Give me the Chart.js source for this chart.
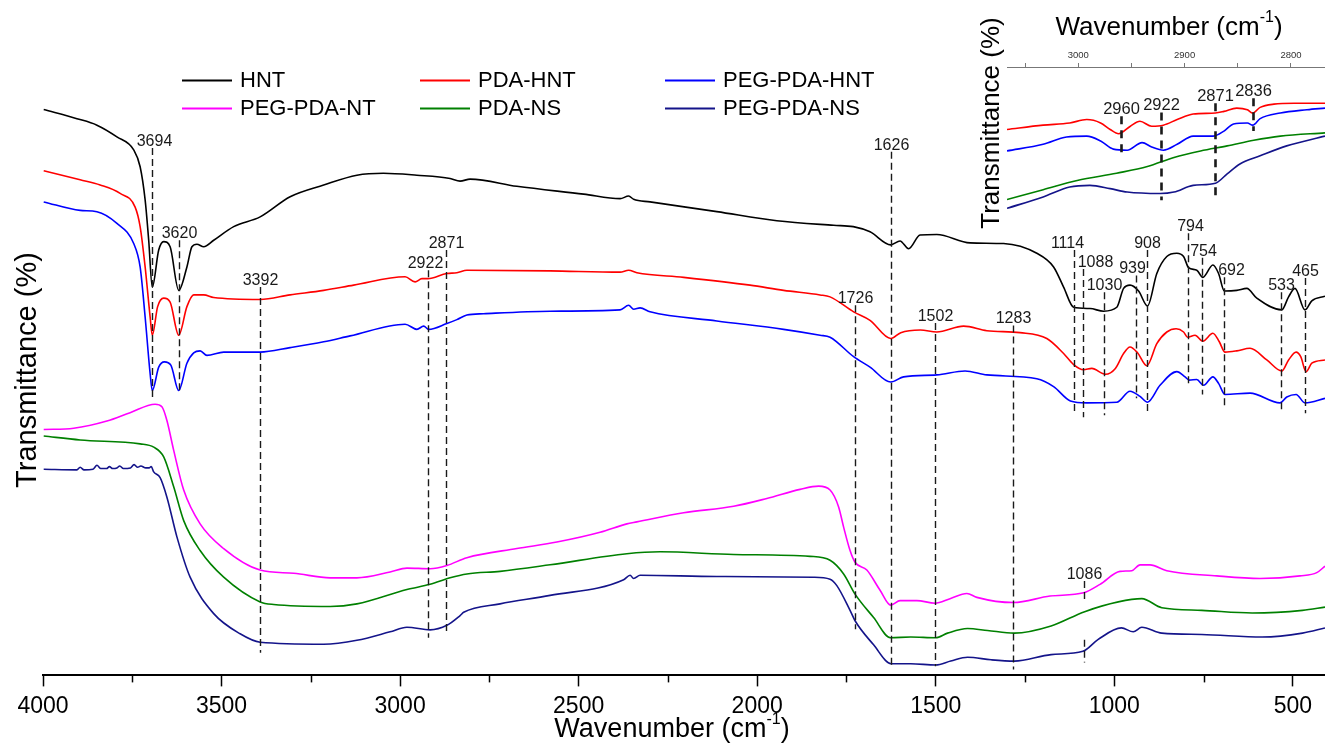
<!DOCTYPE html>
<html>
<head>
<meta charset="utf-8">
<script src="https://cdn.jsdelivr.net/npm/chart.js@4.4.1/dist/chart.umd.min.js"></script>
<style>
  body { margin: 0; background: #fff; }
  #wrap { position: relative; width: 1325px; height: 744px; }
  #main { position: absolute; left: 0; top: 0; }
  #inset { position: absolute; left: 965px; top: 0; }
</style>
</head>
<body>
<div id="wrap">
  <canvas id="main" width="1325" height="744"></canvas>
  <canvas id="inset" width="360" height="235"></canvas>
</div>
<script>
// FTIR spectra, [wavenumber (cm-1), transmittance (a.u., offset)]
var seriesNames = ['HNT', 'PDA-HNT', 'PEG-PDA-HNT', 'PEG-PDA-NT', 'PDA-NS', 'PEG-PDA-NS'];
var seriesColors = ['#000000', '#ff0000', '#0000ff', '#ff00ff', '#008000', '#14148a'];

var HNT = [
  [3998,87.0],[3905,85.6],[3849,84.6],[3793,82.8],[3746,80.8],[3728,78.2],[3714,73.1],[3704,66.9],[3694,59.7],
  [3676,65.4],[3662,66.7],[3644,65.9],[3620,59.2],[3597,62.8],[3583,65.9],[3569,66.3],[3550,65.9],[3522,66.9],
  [3466,69.0],[3392,70.5],[3308,73.6],[3214,75.4],[3121,76.9],[3047,77.2],[2953,76.9],[2860,76.4],[2832,76.0],
  [2804,76.3],[2673,75.2],[2486,74.0],[2384,73.3],[2360,73.7],[2346,73.2],[2300,72.8],[2113,71.3],[1945,69.9],
  [1786,69.2],[1731,69.0],[1684,68.2],[1626,66.2],[1600,66.8],[1576,65.6],[1544,67.7],[1497,67.8],[1404,66.5],
  [1310,66.4],[1217,64.9],[1170,62.8],[1142,59.7],[1114,56.6],[1068,56.4],[1030,56.0],[993,56.6],[974,59.5],
  [956,60.0],[932,59.1],[907,56.8],[881,61.8],[853,64.4],[825,64.9],[806,64.4],[792,62.7],[769,62.3],[752,61.2],
  [724,63.1],[708,61.8],[692,59.1],[657,59.2],[629,59.5],[601,58.0],[531,56.2],[512,58.2],[494,59.5],[466,56.2],
  [447,57.6],[410,58.3]
];
var PDA_HNT = [
  [3998,77.6],[3896,76.2],[3840,75.4],[3784,74.1],[3742,72.0],[3728,69.0],[3714,62.8],[3700,55.1],[3694,52.3],
  [3679,56.7],[3662,58.0],[3644,57.4],[3620,52.3],[3597,56.7],[3578,58.5],[3550,58.5],[3522,58.1],[3392,57.8],
  [3308,58.5],[3214,59.2],[3130,60.0],[2986,61.3],[2958,60.5],[2939,61.0],[2922,61.0],[2869,61.8],[2841,61.9],
  [2813,62.3],[2580,62.2],[2384,62.0],[2360,62.3],[2337,61.9],[2206,61.2],[2020,60.0],[1926,59.2],[1824,58.5],
  [1796,58.2],[1730,55.9],[1684,54.6],[1626,51.8],[1598,52.7],[1543,53.1],[1497,52.8],[1422,53.7],[1357,53.0],
  [1264,52.7],[1189,51.8],[1142,49.5],[1114,47.8],[1086,47.0],[1063,47.2],[1025,46.3],[997,47.2],[974,49.5],
  [956,50.5],[935,49.6],[909,47.6],[881,51.0],[853,52.8],[827,53.3],[806,52.8],[795,52.0],[774,52.3],[752,51.4],
  [724,52.6],[706,51.3],[690,49.7],[657,49.9],[620,50.3],[573,48.5],[531,46.8],[512,48.5],[491,49.7],[478,49.0],
  [463,46.7],[447,48.0],[410,48.5]
];
var PEG_PDA_HNT = [
  [3998,72.8],[3896,71.5],[3849,71.3],[3793,69.5],[3746,66.4],[3728,62.8],[3714,55.1],[3700,46.4],[3694,43.8],
  [3676,47.4],[3660,48.2],[3642,47.7],[3620,43.8],[3597,48.0],[3578,49.6],[3560,49.9],[3541,49.2],[3494,49.7],
  [3392,49.7],[3308,50.4],[3214,51.3],[3140,52.2],[2986,54.0],[2953,53.2],[2934,53.7],[2920,53.2],[2869,54.1],
  [2841,54.7],[2813,55.4],[2766,55.6],[2580,56.0],[2384,56.2],[2360,56.9],[2346,56.3],[2328,56.5],[2300,55.9],
  [2113,54.5],[1926,53.2],[1824,52.3],[1796,52.0],[1730,49.0],[1684,47.4],[1626,45.1],[1590,45.9],[1497,46.2],
  [1418,46.8],[1357,46.2],[1217,45.6],[1170,44.4],[1123,42.2],[1077,41.9],[993,42.0],[956,43.7],[928,42.9],
  [907,42.0],[872,44.6],[825,46.7],[802,45.9],[790,45.4],[769,45.5],[750,44.6],[724,45.9],[708,44.9],[690,43.2],
  [620,43.4],[536,41.9],[517,42.8],[491,43.2],[466,41.9],[410,42.6]
];
var PEG_PDA_NT = [
  [3998,37.8],[3914,38.0],[3821,39.1],[3756,40.4],[3686,41.7],[3667,41.3],[3653,39.2],[3634,34.6],[3606,28.5],
  [3560,23.3],[3494,19.5],[3392,16.2],[3298,15.7],[3196,15.0],[3121,15.0],[3028,15.9],[2981,16.5],[2916,16.4],
  [2869,16.9],[2813,18.1],[2673,19.5],[2561,20.5],[2440,22.0],[2365,23.3],[2337,23.6],[2206,25.0],[2066,26.0],
  [1973,27.2],[1880,28.6],[1828,29.1],[1796,28.5],[1772,25.9],[1758,22.8],[1740,19.2],[1726,17.4],[1693,16.2],
  [1656,13.1],[1626,10.8],[1600,11.5],[1553,11.5],[1502,11.1],[1460,11.8],[1413,12.6],[1385,12.0],[1282,11.2],
  [1180,12.2],[1086,12.7],[1040,14.0],[984,16.0],[951,16.1],[928,17.0],[900,17.0],[853,16.1],[713,15.3],
  [592,14.9],[480,15.3],[433,15.8],[410,16.8]
];
var PDA_NS = [
  [3998,36.8],[3896,36.2],[3728,35.6],[3690,35.1],[3662,33.6],[3634,29.0],[3606,23.8],[3560,19.2],[3494,15.1],
  [3392,11.3],[3354,10.9],[3196,10.6],[3121,11.0],[2981,13.2],[2916,14.0],[2860,15.0],[2813,15.6],[2720,16.0],
  [2580,17.0],[2365,18.7],[2272,19.0],[2066,18.6],[1852,18.3],[1796,17.7],[1758,15.6],[1726,12.5],[1674,8.9],
  [1627,5.8],[1570,5.9],[1500,5.8],[1467,6.5],[1411,7.2],[1355,6.9],[1280,6.5],[1177,7.6],[1083,9.8],[989,11.3],
  [923,11.8],[867,10.4],[755,10.0],[614,9.6],[473,10.0],[410,10.5]
];
var PEG_PDA_NS = [
  [3998,31.7],[3905,31.6],[3896,32.0],[3885,31.6],[3860,31.7],[3849,32.3],[3838,31.8],[3822,31.8],
  [3814,32.1],[3805,31.8],[3793,31.9],[3785,32.2],[3775,31.8],[3755,31.9],[3745,32.4],[3735,32.0],[3726,32.2],
  [3712,31.9],[3703,31.9],[3697,32.1],[3690,31.3],[3672,30.4],[3653,27.4],[3625,21.3],
  [3588,15.1],[3522,9.5],[3448,6.4],[3392,5.1],[3214,4.8],[3121,5.4],[3028,6.7],[2981,7.4],[2916,7.0],[2869,7.7],
  [2832,9.2],[2822,9.7],[2720,11.0],[2580,12.3],[2374,14.7],[2356,15.4],[2346,14.9],[2328,15.4],[2113,15.2],
  [1842,15.1],[1796,14.8],[1777,13.8],[1740,10.0],[1726,8.4],[1674,4.7],[1625,1.8],[1570,1.8],[1500,1.6],
  [1458,2.2],[1411,2.8],[1345,2.4],[1280,2.2],[1177,3.2],[1088,3.7],[1046,5.5],[980,7.3],[947,6.7],[923,7.4],
  [867,6.5],[755,6.3],[586,5.9],[473,6.5],[410,7.3]
];

// inset: C-H stretching region
var IN_PDA_HNT = [
  [3067,57.8],[3033,60.7],[3008,62.2],[2992,64.5],[2979,62.2],[2970,57.8],[2962,54.9],[2951,60.0],[2942,63.3],
  [2931,60.0],[2920,60.7],[2907,64.5],[2892,68.2],[2871,68.9],[2863,70.0],[2851,72.2],[2841,71.1],[2836,68.9],
  [2829,72.7],[2816,74.9],[2797,75.5],[2768,75.5]
];
var IN_PEG_PDA_HNT = [
  [3067,43.3],[3033,47.8],[3011,52.7],[2992,53.3],[2979,50.0],[2967,44.5],[2954,43.8],[2940,48.9],[2931,46.0],
  [2920,43.8],[2907,47.8],[2892,53.3],[2873,53.3],[2863,56.7],[2854,61.5],[2841,62.2],[2836,60.7],[2829,65.1],
  [2810,68.9],[2785,71.1],[2768,72.2]
];
var IN_PDA_NS = [
  [3067,10.5],[3033,17.1],[3001,23.3],[2964,28.2],[2935,32.7],[2910,38.9],[2885,43.3],[2860,46.7],[2835,50.5],
  [2810,53.3],[2768,55.5]
];
var IN_PEG_PDA_NS = [
  [3067,4.5],[3033,12.2],[3008,18.9],[2989,20.0],[2970,17.8],[2954,15.5],[2923,14.5],[2910,15.5],[2892,20.0],
  [2871,21.5],[2860,27.8],[2848,34.5],[2829,40.0],[2804,46.7],[2768,53.3]
];

// axis ticks
var mainTicks = [4000, 3750, 3500, 3250, 3000, 2750, 2500, 2250, 2000, 1750, 1500, 1250, 1000, 750, 500];
var insetTicks = [3050, 3000, 2950, 2900, 2850, 2800];

// band assignments: wavenumber, dashed line from top to bottom (same units as the spectra)
var mainPeaks  = [3694, 3620, 3392, 2922, 2871, 1726, 1626, 1502, 1283, 1114, 1088, 1030, 939, 908, 794, 754, 692, 533, 465, 1086];
var mainTop    = [81.1, 66.9, 59.7, 62.3, 65.4, 56.9, 80.5, 54.2, 53.8, 65.4, 62.5, 58.9, 61.5, 65.4, 68.0, 64.2, 61.2, 58.9, 61.1, 14.5];
var mainBottom = [42.3, 43.8, 3.5, 5.8, 6.2, 7.1, 1.4, 1.4, 0.9, 40.5, 39.7, 40.0, 42.6, 40.5, 44.6, 43.2, 41.1, 40.3, 40.3, 2.0];
var mainGaps = { 1086: [11.2, 5.5] };

var insetPeaks  = [2960, 2922, 2871, 2836];
var insetTop    = [66.7, 69.3, 75.5, 78.9];
var insetBottom = [42.2, 10.0, 12.2, 56.7];

// label nudges in px (layout only)
var labelShift = { 3694: 2, 2922: -3, 1114: -7, 1088: 12, 939: -4, 692: 7, 794: 2, 754: 1 };

var FONT = '"Liberation Sans", Arial, Helvetica, sans-serif';
Chart.defaults.font.family = FONT;
Chart.defaults.color = '#000';

function makeDataset(label, data, color) {
    return {
        label: label,
        data: data,
        borderColor: color,
        borderWidth: 1.6,
        pointRadius: 0,
        fill: false,
        cubicInterpolationMode: 'monotone'
    };
}

function drawPeaks(chart, wns, tops, bottoms, style) {
    var ctx = chart.ctx;
    var x = chart.scales.x, y = chart.scales.y;
    ctx.save();
    ctx.strokeStyle = '#1a1a1a';
    ctx.fillStyle = '#1a1a1a';
    ctx.lineWidth = style.width;
    ctx.font = style.font;
    ctx.textAlign = 'center';
    ctx.textBaseline = 'alphabetic';
    wns.forEach(function(wn, i) {
        var px = Math.round(x.getPixelForValue(wn)) + 0.5;
        var y0 = y.getPixelForValue(tops[i]);
        var y1 = y.getPixelForValue(bottoms[i]);
        var segs = [[y0, y1]];
        if (style.gaps && style.gaps[wn]) {
            var g = style.gaps[wn];
            segs = [[y0, y.getPixelForValue(g[0])], [y.getPixelForValue(g[1]), y1]];
        }
        ctx.setLineDash(style.dash);
        segs.forEach(function(s) {
            ctx.beginPath();
            ctx.moveTo(px, s[0]);
            ctx.lineTo(px, s[1]);
            ctx.stroke();
        });
        ctx.setLineDash([]);
        var dx = (style.shift && style.shift[wn]) || 0;
        ctx.fillText(String(wn), px + dx, y0 - 2);
    });
    ctx.restore();
}

// "Wavenumber (cm-1)" with superscript
function drawWavenumberTitle(ctx, cx, cy, size) {
    var base = 'Wavenumber (cm', sup = '-1', tail = ')';
    var supSize = Math.round(size * 0.6);
    ctx.save();
    ctx.fillStyle = '#000';
    ctx.textBaseline = 'middle';
    ctx.textAlign = 'left';
    ctx.font = size + 'px ' + FONT;
    var w1 = ctx.measureText(base).width, w3 = ctx.measureText(tail).width;
    ctx.font = supSize + 'px ' + FONT;
    var w2 = ctx.measureText(sup).width;
    var x0 = cx - (w1 + w2 + w3) / 2;
    ctx.font = size + 'px ' + FONT;
    ctx.fillText(base, x0, cy);
    ctx.fillText(tail, x0 + w1 + w2, cy);
    ctx.font = supSize + 'px ' + FONT;
    ctx.fillText(sup, x0 + w1, cy - size * 0.4);
    ctx.restore();
}

function drawYTitle(ctx, cx, cy, size) {
    ctx.save();
    ctx.translate(cx, cy);
    ctx.rotate(-Math.PI / 2);
    ctx.font = size + 'px ' + FONT;
    ctx.fillStyle = '#000';
    ctx.textAlign = 'center';
    ctx.textBaseline = 'middle';
    ctx.fillText('Transmittance (%)', 0, 0);
    ctx.restore();
}

var legendCols = [182, 420, 665];
var legendRows = [80.5, 108.5];

var mainDecor = {
    id: 'mainDecor',
    afterDatasetsDraw: function(chart) {
        drawPeaks(chart, mainPeaks, mainTop, mainBottom, {
            width: 1.4, dash: [7, 4], font: '16px ' + FONT, shift: labelShift, gaps: mainGaps
        });
    },
    afterDraw: function(chart) {
        var ctx = chart.ctx, x = chart.scales.x, area = chart.chartArea;
        // minor ticks
        ctx.save();
        ctx.strokeStyle = '#000';
        ctx.lineWidth = 1.5;
        mainTicks.forEach(function(v) {
            if (v % 500 === 0) return;
            var px = Math.round(x.getPixelForValue(v)) + 0.5;
            ctx.beginPath();
            ctx.moveTo(px, area.bottom);
            ctx.lineTo(px, area.bottom + 7);
            ctx.stroke();
        });
        ctx.restore();

        // legend, 3 columns x 2 rows
        ctx.save();
        ctx.font = '22px ' + FONT;
        ctx.textBaseline = 'middle';
        ctx.textAlign = 'left';
        chart.data.datasets.forEach(function(ds, i) {
            var lx = legendCols[i % 3], ly = legendRows[Math.floor(i / 3)];
            ctx.strokeStyle = ds.borderColor;
            ctx.lineWidth = 2;
            ctx.beginPath();
            ctx.moveTo(lx, ly);
            ctx.lineTo(lx + 50, ly);
            ctx.stroke();
            ctx.fillStyle = '#000';
            ctx.fillText(ds.label, lx + 58, ly);
        });
        ctx.restore();

        drawWavenumberTitle(ctx, 672, 730, 27);
        drawYTitle(ctx, 28, 370, 29);
    }
};

var insetDecor = {
    id: 'insetDecor',
    afterDatasetsDraw: function(chart) {
        drawPeaks(chart, insetPeaks, insetTop, insetBottom, {
            width: 2.6, dash: [8, 6], font: '16.5px ' + FONT
        });
    },
    afterDraw: function(chart) {
        drawWavenumberTitle(chart.ctx, 204, 28, 26);
        drawYTitle(chart.ctx, 27, 123, 26);
    }
};

var mainSeries = [HNT, PDA_HNT, PEG_PDA_HNT, PEG_PDA_NT, PDA_NS, PEG_PDA_NS];

new Chart(document.getElementById('main'), {
    type: 'line',
    data: {
        datasets: mainSeries.map(function(d, i) {
            return makeDataset(seriesNames[i], d, seriesColors[i]);
        })
    },
    options: {
        responsive: false,
        animation: false,
        layout: { padding: { left: 43, right: 0, top: 25, bottom: 18 } },
        plugins: { legend: { display: false }, tooltip: { enabled: false } },
        scales: {
            x: {
                type: 'linear',
                reverse: true,
                min: 410,
                max: 4000,
                afterBuildTicks: function(scale) {
                    scale.ticks = mainTicks.map(function(v) { return { value: v }; });
                },
                ticks: {
                    autoSkip: false,
                    maxRotation: 0,
                    padding: 6,
                    font: { size: 23 },
                    color: '#000',
                    callback: function(v) { return v % 500 === 0 ? String(v) : ''; }
                },
                grid: {
                    drawOnChartArea: false,
                    drawTicks: true,
                    tickLength: 11,
                    tickWidth: 1.5,
                    tickColor: function(c) {
                        return c.tick && c.tick.value % 500 === 0 ? '#000' : 'rgba(0,0,0,0)';
                    }
                },
                border: { display: true, color: '#000', width: 2 }
            },
            y: { display: false, min: 0, max: 100 }
        }
    },
    plugins: [mainDecor]
});

var insetSeries = [IN_PDA_HNT, IN_PEG_PDA_HNT, IN_PDA_NS, IN_PEG_PDA_NS];
var insetIdx = [1, 2, 4, 5];

new Chart(document.getElementById('inset'), {
    type: 'line',
    data: {
        datasets: insetSeries.map(function(d, i) {
            return makeDataset(seriesNames[insetIdx[i]], d, seriesColors[insetIdx[i]]);
        })
    },
    options: {
        responsive: false,
        animation: false,
        layout: { padding: { left: 42, right: 0, top: 47.6, bottom: 20 } },
        plugins: { legend: { display: false }, tooltip: { enabled: false } },
        scales: {
            x: {
                type: 'linear',
                position: 'top',
                reverse: true,
                min: 2768,
                max: 3067,
                afterBuildTicks: function(scale) {
                    scale.ticks = insetTicks.map(function(v) { return { value: v }; });
                },
                ticks: {
                    autoSkip: false,
                    maxRotation: 0,
                    padding: 2,
                    font: { size: 9.5 },
                    color: '#333',
                    callback: function(v) { return v % 100 === 0 ? String(v) : ''; }
                },
                grid: {
                    drawOnChartArea: false,
                    drawTicks: true,
                    tickLength: 4,
                    tickColor: '#777'
                },
                border: { display: true, color: '#777', width: 1 }
            },
            y: { display: false, min: 0, max: 100 }
        }
    },
    plugins: [insetDecor]
});
</script>
</body>
</html>
